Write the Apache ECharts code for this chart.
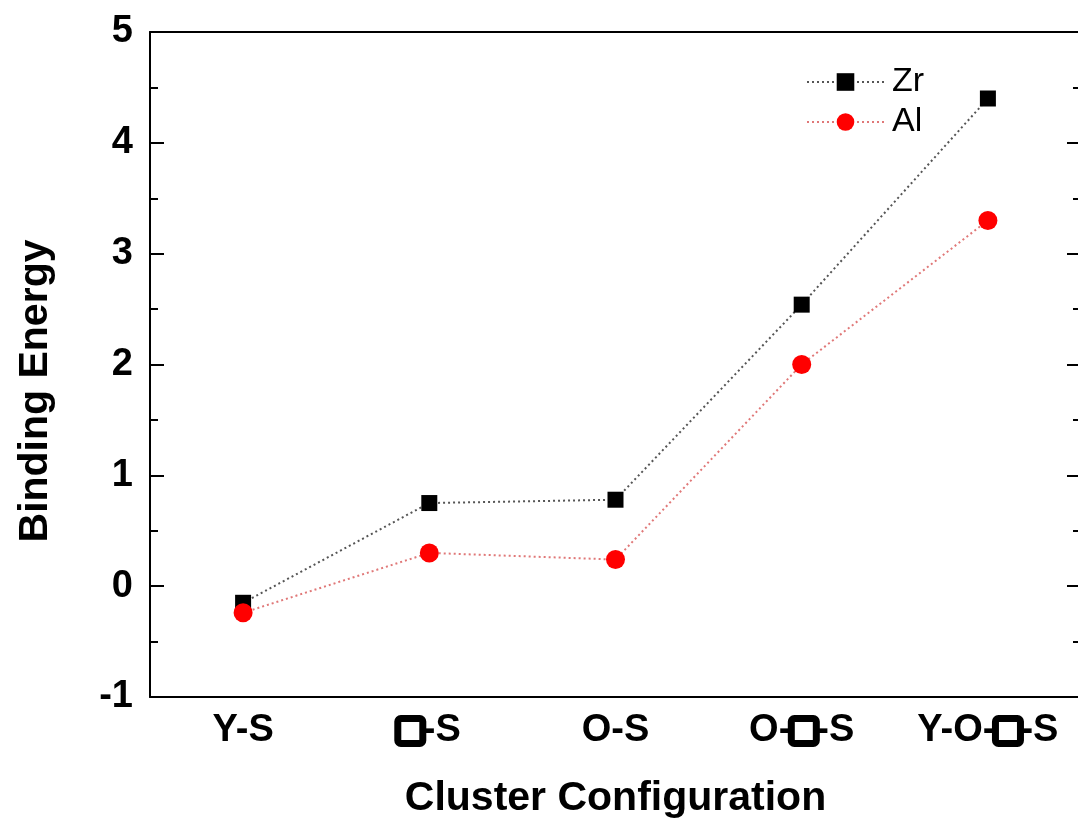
<!DOCTYPE html>
<html>
<head>
<meta charset="utf-8">
<script src="https://cdn.jsdelivr.net/npm/echarts@6/dist/echarts.min.js"></script>
<style>html,body{margin:0;padding:0;background:#fff}#c{width:1078px;height:823px}</style>
</head>
<body>
<div id="c"></div>
<script>
const categories = ['Y-S', '□-S', 'O-S', 'O-□-S', 'Y-O-□-S'];
const zrValues = [-0.15, 0.75, 0.78, 2.54, 4.40];
const alValues = [-0.24, 0.30, 0.24, 2.00, 3.30];
const seriesNames = ['Zr', 'Al'];
const yTicks = { min: -1, max: 5, interval: 1 };

const FONT = '"Liberation Sans", Arial, sans-serif';
const chart = echarts.init(document.getElementById('c'), null, { renderer: 'canvas' });

function fmtLabel(v) {
  return v.split('□').map(s => s ? '{t|' + s + '}' : '').join('{box|□}');
}

const hiddenAxisBase = {
  type: 'category', data: categories, boundaryGap: true,
  axisLabel: { show: false }, splitLine: { show: false }
};

chart.setOption({
  backgroundColor: '#fff',
  animation: false,
  grid: { left: 150, top: 32, right: -3, bottom: 126, containLabel: false, outerBoundsMode: 'none' },
  legend: {
    orient: 'vertical', left: 801, top: 60, itemWidth: 77, itemHeight: 22, itemGap: 6,
    textStyle: { fontFamily: FONT, fontSize: 34, color: '#000', padding: [0, 0, 0, 3] },
    data: seriesNames
  },
  graphic: [{
    type: 'text', x: 36, y: 391, rotation: Math.PI / 2,
    style: { text: 'Binding Energy', align: 'center', verticalAlign: 'middle',
      font: 'bold 41px ' + FONT, fill: '#000' }
  }],
  xAxis: [
    {
      type: 'category', data: categories, boundaryGap: true, position: 'bottom',
      name: 'Cluster Configuration', nameLocation: 'middle', nameGap: 81,
      nameTextStyle: { fontFamily: FONT, fontWeight: 'bold', fontSize: 41, color: '#000' },
      axisLine: { onZero: false, lineStyle: { color: '#000', width: 2 } },
      axisTick: { alignWithLabel: true, inside: true, length: 13, lineStyle: { color: '#000', width: 2 } },
      axisLabel: {
        margin: 14, formatter: fmtLabel,
        rich: {
          t: { fontFamily: FONT, fontWeight: 'bold', fontSize: 38, color: '#000', lineHeight: 40 },
          box: { fontSize: 1, color: 'rgba(0,0,0,0)', width: 25, height: 25, borderColor: '#000', borderWidth: 7, borderRadius: 3, padding: [0, 0, 0, 0] }
        }
      },
      splitLine: { show: false }
    },
    Object.assign({}, hiddenAxisBase, {
      position: 'bottom', axisLine: { show: false, onZero: false },
      axisTick: { inside: true, length: 7, lineStyle: { color: '#000', width: 2 } }
    }),
    Object.assign({}, hiddenAxisBase, {
      position: 'top',
      axisLine: { onZero: false, lineStyle: { color: '#000', width: 2 } },
      axisTick: { alignWithLabel: true, inside: true, length: 13, lineStyle: { color: '#000', width: 2 } }
    }),
    Object.assign({}, hiddenAxisBase, {
      position: 'top', axisLine: { show: false, onZero: false },
      axisTick: { inside: true, length: 7, lineStyle: { color: '#000', width: 2 } }
    })
  ],
  yAxis: [
    {
      type: 'value', position: 'left', min: yTicks.min, max: yTicks.max, interval: yTicks.interval,
      axisLine: { show: true, onZero: false, lineStyle: { color: '#000', width: 2 } },
      axisTick: { show: true, inside: true, length: 14, lineStyle: { color: '#000', width: 2 } },
      minorTick: { show: true, splitNumber: 2, length: 8, lineStyle: { color: '#000', width: 2 } },
      axisLabel: { margin: 17, fontFamily: FONT, fontWeight: 'bold', fontSize: 38, color: '#000' },
      splitLine: { show: false }
    },
    {
      type: 'value', position: 'right', min: yTicks.min, max: yTicks.max, interval: yTicks.interval,
      axisLine: { show: false, onZero: false },
      axisTick: { show: true, inside: true, length: 14, lineStyle: { color: '#000', width: 2 } },
      minorTick: { show: true, splitNumber: 2, length: 8, lineStyle: { color: '#000', width: 2 } },
      axisLabel: { show: false },
      splitLine: { show: false }
    }
  ],
  series: [
    {
      name: seriesNames[0], type: 'line', data: zrValues, xAxisIndex: 0, yAxisIndex: 0,
      symbol: 'rect', symbolSize: 16,
      itemStyle: { color: '#000' },
      lineStyle: { color: '#555', width: 2, type: [2, 3] }
    },
    {
      name: seriesNames[1], type: 'line', data: alValues, xAxisIndex: 0, yAxisIndex: 0,
      symbol: 'circle', symbolSize: 19,
      itemStyle: { color: '#ff0000' },
      lineStyle: { color: '#e07878', width: 2, type: [2, 3] }
    }
  ]
});
</script>
</body>
</html>
